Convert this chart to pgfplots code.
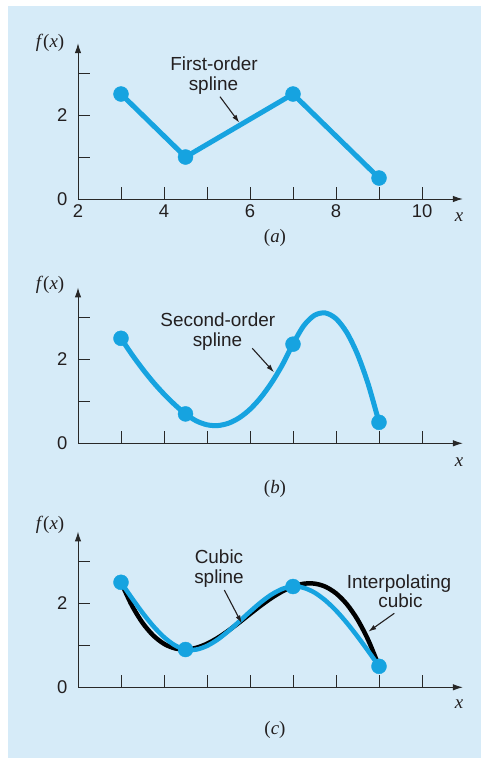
\documentclass[border=0pt]{standalone}
\usepackage{pgfplots}
\pgfplotsset{compat=1.18}
\usepackage{fontspec}
\setmainfont{Liberation Sans}
\newfontfamily\tms{Liberation Serif}
\usetikzlibrary{arrows.meta}
\definecolor{bgblue}{RGB}{214,235,248}
\definecolor{cblue}{RGB}{22,163,224}
\definecolor{axgray}{RGB}{40,40,40}
\definecolor{txt}{RGB}{35,31,32}

\pgfplotsset{
 spl/.style={
   x=43bp, y=42bp, xmin=2, xmax=10.95, ymin=0, ymax=3.71,
   axis x line*=bottom, axis y line*=left,
   axis line style={axgray, line width=1bp, -{Latex[length=10bp,width=6.5bp]}},
   xtick={2,...,10}, ytick={0,1,2,3},
   yticklabels={0,,2,},
   tick align=inside, major tick length=12bp,
   tick style={axgray, line width=1bp},
   tick label style={font=\fontsize{18.5}{20}\selectfont, text=txt},
   yticklabel style={xshift=-7bp},
   xticklabel style={yshift=-2.5bp},
   clip=false, anchor=south west,
 },
 dots/.style={only marks, mark=*, mark size=7.5bp, mark options={fill=cblue, draw=cblue}},
}

\newcommand{\sfnt}{\fontsize{19}{20}\selectfont}
\newcommand{\rmfnt}{\tms\fontsize{19}{20}\selectfont}

\begin{document}
\begin{tikzpicture}
\useasboundingbox (0,0) rectangle (481bp,-758bp);
\fill[white] (0,0) rectangle (481bp,-758bp);
\fill[bgblue] (8bp,-6bp) rectangle (481bp,-758bp);

% ---------- (a) ----------
\begin{axis}[spl, at={(78bp,-199bp)}, xticklabels={2,,4,,6,,8,,10}]
\addplot[cblue, line width=5bp, line join=round] coordinates {(3,2.5) (4.5,1) (7,2.5) (9,0.5)};
\addplot[dots] coordinates {(3,2.5) (4.5,1) (7,2.5) (9,0.5)};
\end{axis}

% ---------- (b) ----------
\begin{axis}[spl, at={(78bp,-443.3bp)}, xticklabels={,,,,,,,,}]
\addplot[cblue, line width=5bp, smooth] coordinates {
(3,2.500) (3.25,2.120) (3.5,1.772) (3.75,1.455) (4,1.172) (4.25,0.920) (4.5,0.700)
(4.75,0.534) (5,0.441) (5.25,0.422) (5.5,0.478) (5.75,0.607) (6,0.810) (6.25,1.088)
(6.5,1.439) (6.75,1.864) (7,2.364) (7.25,2.800) (7.5,3.048) (7.75,3.104) (8,2.968)
(8.25,2.639) (8.5,2.118) (8.75,1.405) (9,0.500)};
\addplot[dots] coordinates {(3,2.5) (4.5,0.7) (7,2.36) (9,0.5)};
\end{axis}

% ---------- (c) ----------
\begin{axis}[spl, at={(78bp,-687.3bp)}, xticklabels={,,,,,,,,}]
\addplot[black, line width=4.5bp, smooth] coordinates {
(3,2.500) (3.25,1.955) (3.5,1.536) (3.75,1.234) (4,1.035) (4.25,0.928) (4.5,0.900)
(4.75,0.941) (5,1.037) (5.25,1.178) (5.5,1.351) (5.75,1.544) (6,1.746) (6.25,1.944)
(6.5,2.127) (6.75,2.283) (7,2.400) (7.25,2.466) (7.5,2.469) (7.75,2.397) (8,2.238)
(8.25,1.981) (8.5,1.614) (8.75,1.124) (9,0.500)};
\addplot[cblue, line width=4.5bp, smooth] coordinates {
(3,2.500) (3.25,2.129) (3.5,1.775) (3.75,1.458) (4,1.194) (4.25,1.002) (4.5,0.900)
(4.75,0.899) (5,0.986) (5.25,1.139) (5.5,1.340) (5.75,1.568) (6,1.802) (6.25,2.022)
(6.5,2.209) (6.75,2.342) (7,2.400) (7.25,2.369) (7.5,2.256) (7.75,2.071) (8,1.828)
(8.25,1.537) (8.5,1.211) (8.75,0.862) (9,0.500)};
\addplot[dots] coordinates {(3,2.5) (4.5,0.9) (7,2.4) (9,0.5)};
\end{axis}

% ---------- labels ----------
\begin{scope}[text=txt]
% f(x) labels
\node[font=\rmfnt] at (50bp,-43.3bp) {\textit{f}(\textit{x})};
\node[font=\rmfnt] at (50bp,-285bp) {\textit{f}(\textit{x})};
\node[font=\rmfnt] at (50bp,-525bp) {\textit{f}(\textit{x})};
% x labels
\node[font=\rmfnt] at (459bp,-216.7bp) {\textit{x}};
\node[font=\rmfnt] at (459bp,-461.7bp) {\textit{x}};
\node[font=\rmfnt] at (459bp,-704bp) {\textit{x}};
% captions
\node[font=\rmfnt] at (275bp,-238.3bp) {(\textit{a})};
\node[font=\rmfnt] at (275bp,-489.3bp) {(\textit{b})};
\node[font=\rmfnt] at (275bp,-730bp) {(\textit{c})};
% annotations
\node[font=\sfnt, anchor=base] at (214bp,-70bp) {First-order};
\node[font=\sfnt, anchor=base] at (213.5bp,-90bp) {spline};
\node[font=\sfnt, anchor=base] at (217.8bp,-326.7bp) {Second-order};
\node[font=\sfnt, anchor=base] at (217.5bp,-346.5bp) {spline};
\node[font=\sfnt, anchor=base] at (219bp,-563bp) {Cubic};
\node[font=\sfnt, anchor=base] at (219bp,-583bp) {spline};
\node[font=\sfnt, anchor=base] at (399bp,-588.5bp) {Interpolating};
\node[font=\sfnt, anchor=base] at (400.5bp,-607bp) {cubic};
\end{scope}
\begin{scope}[line width=1.1bp, draw=txt]
\draw[-{Latex[length=8bp,width=5bp]}] (220bp,-96.7bp) -- (239.3bp,-122.7bp);
\draw[-{Latex[length=8bp,width=5bp]}] (252.3bp,-348.3bp) -- (274bp,-372.3bp);
\draw[-{Latex[length=8bp,width=5bp]}] (224.3bp,-590bp) -- (241.7bp,-623.3bp);
\draw[-{Latex[length=8bp,width=5bp]}] (394.3bp,-613.3bp) -- (368.3bp,-631.7bp);
\end{scope}
\end{tikzpicture}
\end{document}
